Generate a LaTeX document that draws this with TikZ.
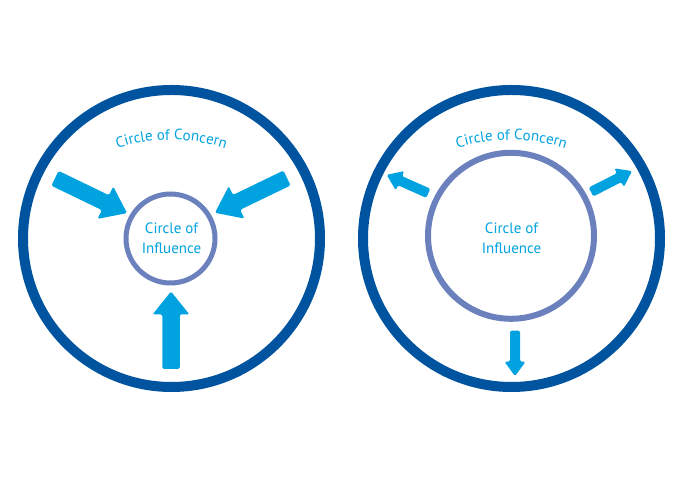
\documentclass[tikz,border=0pt]{standalone}
\usepackage{fontspec}
\setmainfont{PT Sans}
\usetikzlibrary{decorations.text}
\definecolor{outerc}{RGB}{0,83,158}
\definecolor{innerc}{RGB}{106,129,189}
\definecolor{cyanc}{RGB}{0,163,224}
\newcommand\blockarrow[7]{% x, y, angle, length, shaft, headw, headlen
  \begin{scope}[shift={(#1,#2)},rotate=#3]
    \fill[cyanc,rounded corners=1.5pt] (0,{-#5/2}) -- ({#4-#7},{-#5/2}) -- ({#4-#7},{-#6/2}) -- (#4,0)
      -- ({#4-#7},{#6/2}) -- ({#4-#7},{#5/2}) -- (0,{#5/2}) -- cycle;
  \end{scope}}
\tikzset{
  outerring/.style={draw=outerc,line width=10pt},
  innerring/.style={draw=innerc,line width=#1},
  lbl/.style={text=cyanc,font=\fontsize{15}{20}\selectfont,align=center,inner sep=0pt},
  curvelbl/.style={decorate,decoration={text along path,text align=center,
    text={|\color{cyanc}\fontsize{15}{18}\selectfont|#1}}}
}
\begin{document}
\begin{tikzpicture}[x=1pt,y=1pt]
\useasboundingbox[fill=white] (0,0) rectangle (680,481);
% ---------- left diagram ----------
\draw[outerring] (171.5,242.5) circle[radius=148.5pt];
\draw[innerring=5pt] (170.5,242.5) circle[radius=44.5pt];
\node[lbl] (infL) at (171.5,243) {Circle of\\Influence};
\path[curvelbl={Circle of Concern}] (171.5,163) ++(115:178pt) arc[start angle=115,end angle=65,radius=178pt];
\blockarrow{55}{302.7}{-25.8}{80}{16.5}{36}{24}
\blockarrow{287}{303}{205.8}{80}{16.5}{36}{24}
\blockarrow{171}{112}{90}{77.5}{17.5}{37}{23}
% ---------- right diagram ----------
\draw[outerring] (511.5,242.5) circle[radius=148.5pt];
\draw[innerring=6pt] (511,245.2) circle[radius=83pt];
\node[lbl] (infR) at (511.5,243) {Circle of\\Influence};
\path[curvelbl={Circle of Concern}] (511.5,163) ++(115:178pt) arc[start angle=115,end angle=65,radius=178pt];
\blockarrow{428.3}{287.7}{156}{45.5}{10}{21}{14.5}
\blockarrow{591}{289}{27}{46}{10}{21}{14.5}
\blockarrow{515}{150.3}{-90}{45.5}{10}{21}{14.5}
\end{tikzpicture}
\end{document}
